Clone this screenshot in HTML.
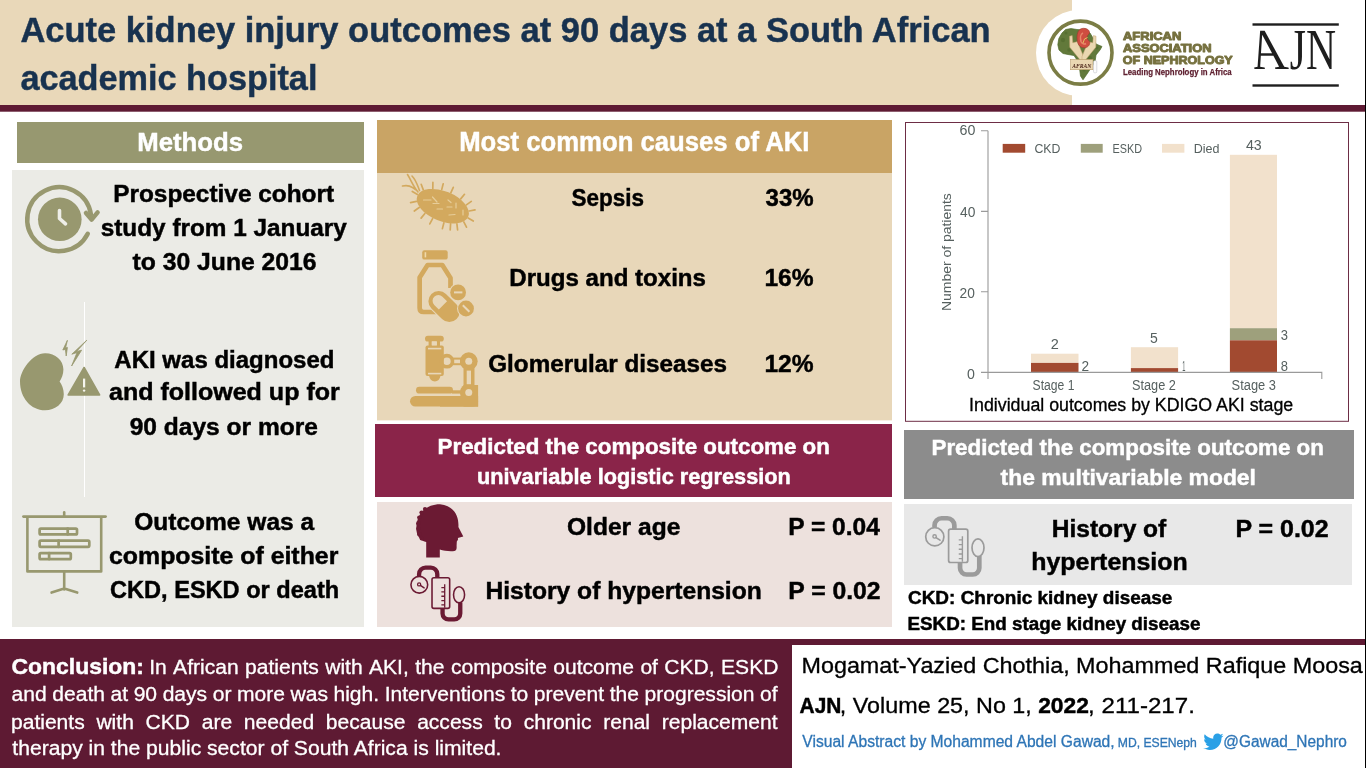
<!DOCTYPE html>
<html lang="en"><head><meta charset="utf-8"><title>Acute kidney injury outcomes at 90 days at a South African academic hospital</title>
<style>
html,body{margin:0;padding:0;background:#fff;}
body{width:1366px;height:768px;overflow:hidden;}
svg{display:block;will-change:transform;}
.sans{font-family:"Liberation Sans", Arial, sans-serif;}
.serif{font-family:"Liberation Serif", "Times New Roman", serif;}
</style></head>
<body>
<svg width="1366" height="768" viewBox="0 0 1366 768">

<rect x="0" y="0" width="1366" height="768" fill="#fff"/>
<rect x="0" y="0" width="1072" height="105" fill="#e9d8b9"/>
<circle cx="1079" cy="53" r="43" fill="#fff"/>
<rect x="0" y="105" width="1365" height="6.7" fill="#5e1a33"/>
<!-- methods -->
<rect x="17" y="122" width="347" height="41" fill="#979870"/>
<rect x="12" y="170" width="352" height="457" fill="#ebebe6"/>
<rect x="84" y="302" width="1" height="195" fill="#fff"/>
<!-- causes -->
<rect x="377" y="120" width="515" height="53" fill="#c9a465"/>
<rect x="377" y="173" width="515" height="247.4" fill="#e8d7b9"/>
<!-- univariable -->
<rect x="375" y="424" width="517" height="73" fill="#8a2449"/>
<rect x="377" y="502" width="515" height="125" fill="#ede1dd"/>
<!-- chart -->
<rect x="905.5" y="122.5" width="443" height="298.8" fill="#fff" stroke="#6d2d45" stroke-width="1"/>
<!-- multivariable -->
<rect x="904" y="430" width="450" height="69" fill="#8c8c8c"/>
<rect x="904" y="504" width="448" height="81" fill="#e8e8e8"/>
<!-- conclusion -->
<rect x="0" y="639" width="1366" height="129" fill="#5e1a33"/>
<rect x="792" y="645" width="574" height="123" fill="#fff"/>
<rect x="1365" y="0" width="1" height="768" fill="#000"/>

<!-- clock icon -->
<g fill="none" stroke="#98986f" stroke-width="4.5" stroke-linecap="round" stroke-linejoin="round">
 <path d="M87.76 233.78 A32 32 0 1 1 90.9 214.3"/>
 <path d="M86 213 L91.6 219.6 L97.6 212.4"/>
</g>
<circle cx="59.8" cy="219.3" r="21.8" fill="#98986f"/>
<path d="M59.5 210.5 V218.5 L65.5 223.8" fill="none" stroke="#eeeee8" stroke-width="3.6" stroke-linecap="round" stroke-linejoin="round"/>

<!-- kidney + warning -->
<path d="M45 353.2 C55 353 63.4 360 63.4 369.6 C63.4 374.5 61.6 378.4 59.6 381.5 C61.8 384.6 63.8 389 63.8 394.3 C63.8 403.5 55.5 410.3 45 410.3 C31 410.3 20 398 20 381.5 C20 371 32 353.4 45 353.2 Z" fill="#98986f"/>
<path d="M84.1 367.5 L68.2 395 L99.6 395 Z" fill="#98986f" stroke="#98986f" stroke-width="1.6" stroke-linejoin="round"/>
<path d="M84.1 378.6 V387.4" stroke="#f6f6ee" stroke-width="2.2"/>
<circle cx="84.1" cy="390.6" r="1.2" fill="#f6f6ee"/>
<polygon points="67.4,340.3 62.8,350 65.4,349.4 66.2,356 67.4,347.4 65.6,347.9" fill="#98986f" stroke="#98986f" stroke-width="0.8" stroke-linejoin="round"/>
<polygon points="86.8,340.2 71.8,354.2 77,352.6 71.6,366 81.6,350.2 76.6,351.4" fill="#98986f" stroke="#98986f" stroke-width="0.8" stroke-linejoin="round"/>

<!-- presentation board -->
<g fill="none" stroke="#98986f" stroke-width="2.6" stroke-linecap="round" stroke-linejoin="round">
 <path d="M23.4 516.6 H105.6"/>
 <path d="M64.2 512.4 V516"/>
 <path d="M27.4 516.6 V571.4 H101.2 V516.6" stroke-linecap="butt"/>
 <path d="M64.2 571.4 V589.5 M51.6 592.6 L64.2 588.6 L77.2 592.6"/>
 <g stroke-width="2.7">
  <rect x="39.6" y="528.6" width="37.4" height="5.8" rx="1.2"/><path d="M67.7 528.6 V534.4"/>
  <rect x="39.6" y="540.7" width="49.7" height="6.1" rx="1.2"/><path d="M58.6 540.7 V546.8"/>
  <rect x="39.6" y="553.1" width="31.2" height="6" rx="1.2"/><path d="M49.1 553.1 V559.1"/>
 </g>
</g>

<!-- bacteria -->
<g>
 <path d="M432.6 218.6 L429.8 223.9 M424.9 213.5 L421.1 218.1 M419.2 207.5 L414.3 211.0 M416.4 201.4 L410.6 202.6 M417.5 194.5 L412.3 191.4 M423.3 189.9 L421.2 184.3 M432.8 188.4 L432.9 182.4 M441.7 189.6 L443.2 183.8 M450.8 192.8 L453.3 187.3 M460.7 198.9 L464.5 194.3 M466.4 204.9 L471.3 201.4 M469.2 211.0 L475.0 209.8 M468.1 217.9 L473.3 221.0 M463.8 221.9 L466.5 227.2 M456.9 223.8 L457.6 229.8 M450.6 223.9 L450.2 229.9 M443.9 222.8 L442.4 228.6" stroke="#d3a95e" stroke-width="1.7" stroke-linecap="round"/>
 <path d="M418 192 C413 186 411 180 407.5 174.5 M419.5 190.5 C417 184 416 180 412 176 M416 190 C411 186 408 185 402.5 186" stroke="#d3a95e" stroke-width="1.6" fill="none" stroke-linecap="round"/>
 <ellipse cx="442.8" cy="206.2" rx="27.5" ry="15" transform="rotate(22 442.8 206.2)" fill="#d3a95e"/>
 <path d="M423.5 200 H431 M432.5 197 L437 202 M433 203.5 H439 M448 200 L451 202.5 M447 207 H452 M437 209 H442.5 M456 203 V208 M463 210 V215 M449 215 L455 214.5" stroke="#ecd6a8" stroke-width="1.2" stroke-linecap="round" opacity="0.8"/>
</g>

<!-- drugs -->
<g>
 <rect x="422.2" y="250.2" width="25.5" height="9.4" rx="2.2" fill="#d3a95e"/>
 <rect x="424.6" y="252.2" width="1.6" height="5.2" fill="#f0d9aa"/>
 <path d="M450.5 288 V278 L442.3 265 H427.6 L419.65 277.5 V308 Q419.65 312 423.65 312 H436" fill="none" stroke="#d3a95e" stroke-width="4.7" stroke-linejoin="round"/>
 <g transform="translate(444,306.5) rotate(45)">
  <rect x="-17.8" y="-10.3" width="35.6" height="20.6" rx="10.3" fill="#d3a95e" stroke="#e8d7b9" stroke-width="2.2" paint-order="stroke"/>
  <path d="M-1.5 -5.8 H-8 A5.8 5.8 0 0 0 -8 5.8 H-1.5 Z" fill="#e8d7b9"/>
 </g>
 <circle cx="458.1" cy="292.4" r="7.9" fill="#d3a95e" stroke="#e8d7b9" stroke-width="2.2" paint-order="stroke"/>
 <path d="M454 292.4 H462.4" stroke="#e8d7b9" stroke-width="2"/>
 <circle cx="466" cy="308.5" r="7.9" fill="#d3a95e" stroke="#e8d7b9" stroke-width="2.2" paint-order="stroke"/>
 <path d="M462.8 305.3 L469.4 311.8" stroke="#e8d7b9" stroke-width="2"/>
</g>

<!-- microscope -->
<g fill="#d3a95e">
 <rect x="425" y="335.7" width="18.8" height="5.9" rx="2.9"/>
 <rect x="428.6" y="341" width="3.2" height="5.2"/>
 <rect x="436.8" y="341" width="3.2" height="5.2"/>
 <rect x="425.5" y="345.6" width="18.3" height="30.4" rx="2"/>
 <path d="M429 375.5 H440.6 A6 8 0 0 1 429 375.5 Z"/>
 <circle cx="446.9" cy="361.2" r="5.6" fill="none" stroke="#d3a95e" stroke-width="3.6"/>
 <rect x="451" y="357.6" width="11" height="7.6"/>
 <circle cx="468.75" cy="361.25" r="8.9"/>
 <rect x="463.5" y="366" width="11" height="22"/>
 <circle cx="468.75" cy="392.5" r="8.9"/>
 <rect x="463.5" y="385" width="14.6" height="21.6"/>
 <rect x="416" y="386.8" width="37" height="6.7" rx="3.35"/>
 <rect x="452" y="390.3" width="10" height="3.3"/>
 <rect x="410" y="396" width="68" height="10.6" rx="5.3"/>
 <rect x="440" y="396" width="38.1" height="10.6"/>
 <g fill="#e8d7b9">
  <rect x="428" y="347.8" width="13.3" height="1.6"/>
  <rect x="428" y="372.8" width="13.3" height="1.6"/>
  <rect x="431.8" y="341.4" width="5" height="3.8"/>
  <rect x="454.2" y="359.6" width="5.8" height="3.6"/>
  <circle cx="468.75" cy="361.25" r="3.5"/>
  <rect x="466.7" y="370.6" width="4.3" height="13.6"/>
  <circle cx="468.75" cy="392.5" r="3.5"/>
 </g>
</g>

<!-- head -->
<path d="M440 504.2 C428 504.2 420 511 417.5 520 C415.5 527 416 533 419 537.5 C421 540.5 424 541.5 426.2 542 L426.2 557.6 L439.8 557.6 L439.8 549.5 C444 551 450 551.5 454.5 551 C456.5 550.5 456.8 548.5 456.6 546 L456.8 541.5 C457.5 540.5 458.5 539.5 457.8 538 L463.3 536.4 L458.4 527 C459 517 455 506 440 504.2 Z" fill="#6b1a33"/>
<g fill="#6b1a33"><circle cx="425" cy="509" r="2.1"/><circle cx="421.6" cy="512.6" r="2.2"/><circle cx="419.2" cy="517.6" r="2.1"/><circle cx="418.3" cy="523.2" r="2.2"/><circle cx="418.3" cy="528.8" r="2.1"/><circle cx="419.2" cy="534" r="2.2"/><circle cx="421.6" cy="538.4" r="2.0"/></g>

<g transform="translate(401.1,555.5) scale(0.92)" fill="none" stroke="#6b1a33" stroke-linecap="butt">
 <path d="M19.55 22.5 V20.25 A7 7 0 0 1 26.55 13.25 H32.35 A7 7 0 0 1 39.35 20.25 V24" stroke-width="4.7"/>
 <path d="M45.05 57.5 V63 A6.5 6.5 0 0 0 51.55 69.5 H57.8 A6.5 6.5 0 0 0 64.3 63 V51" stroke-width="4.7"/>
 <circle cx="19.8" cy="31.8" r="9.1" stroke-width="1.7" fill="#ede1dd"/>
 <circle cx="19.6" cy="31.4" r="1.7" stroke-width="1.4"/>
 <path d="M21 32.6 L25 35.2" stroke-width="1.6" stroke-linecap="round"/>
 <rect x="33.6" y="24.2" width="19.2" height="33.3" rx="2" stroke-width="1.7" fill="#ede1dd"/>
 <path d="M47.4 31.3 V56.8 M43.75 34.9 H47.4 M43.75 39.6 H47.4 M43.75 44.3 H47.4 M43.75 49 H47.4 M43.75 53.6 H47.4" stroke-width="1.4"/>
 <ellipse cx="63" cy="42.7" rx="6" ry="8.8" stroke-width="1.7" fill="#ede1dd"/>
</g>
<g transform="translate(915,505) scale(1.0)" fill="none" stroke="#9b9b9b" stroke-linecap="butt">
 <path d="M19.55 22.5 V20.25 A7 7 0 0 1 26.55 13.25 H32.35 A7 7 0 0 1 39.35 20.25 V24" stroke-width="4.7"/>
 <path d="M45.05 57.5 V63 A6.5 6.5 0 0 0 51.55 69.5 H57.8 A6.5 6.5 0 0 0 64.3 63 V51" stroke-width="4.7"/>
 <circle cx="19.8" cy="31.8" r="9.1" stroke-width="1.7" fill="#e8e8e8"/>
 <circle cx="19.6" cy="31.4" r="1.7" stroke-width="1.4"/>
 <path d="M21 32.6 L25 35.2" stroke-width="1.6" stroke-linecap="round"/>
 <rect x="33.6" y="24.2" width="19.2" height="33.3" rx="2" stroke-width="1.7" fill="#e8e8e8"/>
 <path d="M47.4 31.3 V56.8 M43.75 34.9 H47.4 M43.75 39.6 H47.4 M43.75 44.3 H47.4 M43.75 49 H47.4 M43.75 53.6 H47.4" stroke-width="1.4"/>
 <ellipse cx="63" cy="42.7" rx="6" ry="8.8" stroke-width="1.7" fill="#e8e8e8"/>
</g>

<!-- chart -->
<g>
 <rect x="1031" y="353.7" width="47.5" height="9.2" fill="#f2e1cc"/>
 <rect x="1031" y="362.9" width="47.5" height="9.4" fill="#a24a30"/>
 <rect x="1130.9" y="347.2" width="47.2" height="20.9" fill="#f2e1cc"/>
 <rect x="1130.9" y="368.1" width="47.2" height="4.3" fill="#a24a30"/>
 <rect x="1229.9" y="154.8" width="47.1" height="173.4" fill="#f2e1cc"/>
 <rect x="1229.9" y="328.2" width="47.1" height="12.1" fill="#9ea07c"/>
 <rect x="1229.9" y="340.3" width="47.1" height="32.1" fill="#a24a30"/>
 <rect x="1002.7" y="143.9" width="22.5" height="8.8" fill="#a24a30"/>
 <rect x="1080.8" y="143.9" width="21.9" height="8.8" fill="#9ea07c"/>
 <rect x="1162" y="143.9" width="22.4" height="8.8" fill="#f2e1cc"/>
 <path d="M988 130.8 V379 M981 130.8 H988 M981 211.4 H988 M981 291.7 H988 M981 372.4 H1321.8 V379" fill="none" stroke="#9a9a9a" stroke-width="1.1"/>
</g>

<!-- AFRAN emblem -->
<g>
 <circle cx="1080.5" cy="52.65" r="31.5" fill="#fff" stroke="#7b7d45" stroke-width="3.6"/>
 <polygon points="1065.6,29.5 1071,28.6 1077,29.5 1084,30 1090,33 1093,38 1096,44 1102,46.5 1100,50 1096,55 1095,62 1091,68 1087,74 1083,79.8 1080.5,76 1079.5,68 1077,60 1074,55.5 1068,54.5 1063,53.5 1059,50 1057.8,44.7 1058.8,38.5 1062,33" fill="#62793a" stroke="#4f6a2c" stroke-width="0.7"/>
 <g fill="#526b2e" opacity="0.7"><circle cx="1063" cy="40" r="2.2"/><circle cx="1069" cy="50" r="1.8"/><circle cx="1090" cy="58" r="2"/><circle cx="1084" cy="70" r="1.6"/><circle cx="1097" cy="48" r="1.4"/><circle cx="1066" cy="33" r="1.5"/></g>
 <polygon points="1069.6,36.2 1072.2,35.6 1072.8,42.8 1077.8,41.6 1078.6,44.6 1083.6,56.6 1083.6,60.0 1080.2,60.0 1069.8,47.2" fill="#ead7b0" stroke="#c4a271" stroke-width="0.5" stroke-linejoin="round"/>
 <polygon points="1096.0,36.2 1093.4,35.6 1092.8,42.8 1087.8,41.6 1087.0,44.6 1082.0,56.6 1082.0,60.0 1085.4,60.0 1095.8,47.2" fill="#ead7b0" stroke="#c4a271" stroke-width="0.5" stroke-linejoin="round"/>
 <path d="M1083.6 28.3 C1078.5 28.3 1077 33 1077 37.8 C1077 43.5 1079.5 47.8 1084 47.8 C1088 47.8 1089.8 45 1089.8 42.5 C1089.8 40.5 1087 40 1087 37.5 C1087 35 1089.5 34.5 1089.5 32.5 C1089.5 30 1087 28.3 1083.6 28.3 Z" fill="#cf4d40" stroke="#9a3a2c" stroke-width="0.6"/>
 <path d="M1083 33 C1080.5 34 1080 38 1081 41.5 C1082 44 1084.5 44.5 1086 43.5" fill="none" stroke="#e8866a" stroke-width="1.6"/>
 <path d="M1087.5 37.5 L1084.5 39 L1083 43" fill="none" stroke="#e3c060" stroke-width="1"/>
 <rect x="1070.7" y="59.5" width="22.3" height="10.2" fill="#ead7b2" stroke="#b99b6a" stroke-width="0.6"/>
 <rect x="1093.5" y="60.7" width="3.3" height="12.1" rx="1.2" fill="#fbfbfb" stroke="#b8b8c0" stroke-width="0.5"/>
</g>

<!-- AJN -->
<rect x="1252.5" y="23.3" width="86.3" height="2.4" fill="#1e1e1e"/>
<rect x="1252.5" y="84.3" width="86.3" height="2.4" fill="#1e1e1e"/>

<!-- twitter bird -->
<path transform="translate(1202.5,731.1) scale(0.89)" fill="#2aa0e6" d="M23.643 4.937c-.835.37-1.732.62-2.675.733.962-.576 1.7-1.49 2.048-2.578-.9.534-1.897.922-2.958 1.13-.85-.904-2.06-1.47-3.4-1.47-2.572 0-4.658 2.086-4.658 4.66 0 .364.042.718.12 1.06-3.873-.195-7.304-2.05-9.602-4.868-.4.69-.63 1.49-.63 2.342 0 1.616.823 3.043 2.072 3.878-.764-.025-1.482-.234-2.11-.583v.06c0 2.257 1.605 4.14 3.737 4.568-.392.106-.803.162-1.227.162-.3 0-.593-.028-.877-.082.593 1.85 2.313 3.198 4.352 3.234-1.595 1.25-3.604 1.995-5.786 1.995-.376 0-.747-.022-1.112-.065 2.062 1.323 4.51 2.093 7.14 2.093 8.57 0 13.255-7.098 13.255-13.254 0-.2-.005-.402-.014-.602.91-.658 1.7-1.477 2.323-2.41z"/>

<text x="20.46" y="41.70" font-size="35.56" class="sans" font-weight="bold" fill="#18324f" stroke="#18324f" stroke-width="0.45" textLength="970.20" lengthAdjust="spacingAndGlyphs">Acute kidney injury outcomes at 90 days at a South African</text>
<text x="20.46" y="89.90" font-size="35.56" class="sans" font-weight="bold" fill="#18324f" stroke="#18324f" stroke-width="0.45" textLength="296.96" lengthAdjust="spacingAndGlyphs">academic hospital</text>
<text x="137.19" y="150.80" font-size="26.31" class="sans" font-weight="bold" fill="#fff" stroke="#fff" stroke-width="0.45" textLength="105.85" lengthAdjust="spacingAndGlyphs">Methods</text>
<text x="113.18" y="201.70" font-size="23.75" class="sans" font-weight="bold" fill="#000" stroke="#000" stroke-width="0.45" textLength="220.94" lengthAdjust="spacingAndGlyphs">Prospective cohort</text>
<text x="100.74" y="236.30" font-size="23.75" class="sans" font-weight="bold" fill="#000" stroke="#000" stroke-width="0.45" textLength="246.11" lengthAdjust="spacingAndGlyphs">study from 1 January</text>
<text x="132.50" y="270.00" font-size="23.75" class="sans" font-weight="bold" fill="#000" stroke="#000" stroke-width="0.45" textLength="184.12" lengthAdjust="spacingAndGlyphs">to 30 June 2016</text>
<text x="114.32" y="367.70" font-size="23.75" class="sans" font-weight="bold" fill="#000" stroke="#000" stroke-width="0.45" textLength="220.21" lengthAdjust="spacingAndGlyphs">AKI was diagnosed</text>
<text x="109.01" y="400.30" font-size="23.75" class="sans" font-weight="bold" fill="#000" stroke="#000" stroke-width="0.45" textLength="230.75" lengthAdjust="spacingAndGlyphs">and followed up for</text>
<text x="129.73" y="434.50" font-size="23.75" class="sans" font-weight="bold" fill="#000" stroke="#000" stroke-width="0.45" textLength="188.18" lengthAdjust="spacingAndGlyphs">90 days or more</text>
<text x="134.23" y="529.60" font-size="23.75" class="sans" font-weight="bold" fill="#000" stroke="#000" stroke-width="0.45" textLength="179.91" lengthAdjust="spacingAndGlyphs">Outcome was a</text>
<text x="109.02" y="563.60" font-size="23.75" class="sans" font-weight="bold" fill="#000" stroke="#000" stroke-width="0.45" textLength="229.33" lengthAdjust="spacingAndGlyphs">composite of either</text>
<text x="110.06" y="597.80" font-size="23.75" class="sans" font-weight="bold" fill="#000" stroke="#000" stroke-width="0.45" textLength="229.08" lengthAdjust="spacingAndGlyphs">CKD, ESKD or death</text>
<text x="459.20" y="150.70" font-size="27.02" class="sans" font-weight="bold" fill="#fff" stroke="#fff" stroke-width="0.45" textLength="350.32" lengthAdjust="spacingAndGlyphs">Most common causes of AKI</text>
<text x="571.45" y="205.80" font-size="23.75" class="sans" font-weight="bold" fill="#000" stroke="#000" stroke-width="0.45" textLength="72.46" lengthAdjust="spacingAndGlyphs">Sepsis</text>
<text x="765.52" y="205.80" font-size="23.75" class="sans" font-weight="bold" fill="#000" stroke="#000" stroke-width="0.45" textLength="48.12" lengthAdjust="spacingAndGlyphs">33%</text>
<text x="509.29" y="285.80" font-size="23.75" class="sans" font-weight="bold" fill="#000" stroke="#000" stroke-width="0.45" textLength="196.68" lengthAdjust="spacingAndGlyphs">Drugs and toxins</text>
<text x="764.46" y="285.80" font-size="23.75" class="sans" font-weight="bold" fill="#000" stroke="#000" stroke-width="0.45" textLength="49.18" lengthAdjust="spacingAndGlyphs">16%</text>
<text x="488.24" y="372.40" font-size="23.75" class="sans" font-weight="bold" fill="#000" stroke="#000" stroke-width="0.45" textLength="238.74" lengthAdjust="spacingAndGlyphs">Glomerular diseases</text>
<text x="764.46" y="372.40" font-size="23.75" class="sans" font-weight="bold" fill="#000" stroke="#000" stroke-width="0.45" textLength="49.18" lengthAdjust="spacingAndGlyphs">12%</text>
<text x="437.60" y="453.50" font-size="21.33" class="sans" font-weight="bold" fill="#fff" stroke="#fff" stroke-width="0.45" textLength="392.28" lengthAdjust="spacingAndGlyphs">Predicted the composite outcome on</text>
<text x="476.98" y="483.60" font-size="21.33" class="sans" font-weight="bold" fill="#fff" stroke="#fff" stroke-width="0.45" textLength="313.87" lengthAdjust="spacingAndGlyphs">univariable logistic regression</text>
<text x="567.03" y="534.80" font-size="23.75" class="sans" font-weight="bold" fill="#000" stroke="#000" stroke-width="0.45" textLength="113.28" lengthAdjust="spacingAndGlyphs">Older age</text>
<text x="788.28" y="534.80" font-size="23.75" class="sans" font-weight="bold" fill="#000" stroke="#000" stroke-width="0.45" textLength="91.57" lengthAdjust="spacingAndGlyphs">P = 0.04</text>
<text x="485.46" y="598.80" font-size="23.75" class="sans" font-weight="bold" fill="#000" stroke="#000" stroke-width="0.45" textLength="276.33" lengthAdjust="spacingAndGlyphs">History of hypertension</text>
<text x="788.26" y="598.80" font-size="23.75" class="sans" font-weight="bold" fill="#000" stroke="#000" stroke-width="0.45" textLength="92.35" lengthAdjust="spacingAndGlyphs">P = 0.02</text>
<text x="931.50" y="454.60" font-size="21.33" class="sans" font-weight="bold" fill="#fff" stroke="#fff" stroke-width="0.45" textLength="392.38" lengthAdjust="spacingAndGlyphs">Predicted the composite outcome on</text>
<text x="1000.60" y="484.70" font-size="21.33" class="sans" font-weight="bold" fill="#fff" stroke="#fff" stroke-width="0.45" textLength="255.35" lengthAdjust="spacingAndGlyphs">the multivariable model</text>
<text x="1051.77" y="537.00" font-size="23.75" class="sans" font-weight="bold" fill="#000" stroke="#000" stroke-width="0.45" textLength="114.47" lengthAdjust="spacingAndGlyphs">History of</text>
<text x="1031.24" y="570.30" font-size="23.75" class="sans" font-weight="bold" fill="#000" stroke="#000" stroke-width="0.45" textLength="156.46" lengthAdjust="spacingAndGlyphs">hypertension</text>
<text x="1235.45" y="537.00" font-size="23.75" class="sans" font-weight="bold" fill="#000" stroke="#000" stroke-width="0.45" textLength="93.17" lengthAdjust="spacingAndGlyphs">P = 0.02</text>
<text x="908.01" y="603.80" font-size="17.78" class="sans" font-weight="bold" fill="#000" stroke="#000" stroke-width="0.45" textLength="264.36" lengthAdjust="spacingAndGlyphs">CKD: Chronic kidney disease</text>
<text x="907.42" y="630.40" font-size="17.78" class="sans" font-weight="bold" fill="#000" stroke="#000" stroke-width="0.45" textLength="293.05" lengthAdjust="spacingAndGlyphs">ESKD: End stage kidney disease</text>
<text x="969.12" y="411.10" font-size="17.78" class="sans" fill="#000" stroke="#000" stroke-width="0.3" textLength="324.10" lengthAdjust="spacingAndGlyphs">Individual outcomes by KDIGO AKI stage</text>
<text x="11.58" y="673.70" font-size="22.04" class="sans" font-weight="bold" fill="#fff" stroke="#fff" stroke-width="0.45" textLength="132.32" lengthAdjust="spacingAndGlyphs">Conclusion:</text>
<text x="801.48" y="672.50" font-size="21.33" class="sans" fill="#000" stroke="#000" stroke-width="0.3" textLength="561.38" lengthAdjust="spacingAndGlyphs">Mogamat-Yazied Chothia, Mohammed Rafique Moosa</text>
<text x="799.57" y="712.80" font-size="21.90" class="sans" font-weight="bold" fill="#000" stroke="#000" stroke-width="0.45" textLength="41.80" lengthAdjust="spacingAndGlyphs">AJN</text>
<text x="839.88" y="712.80" font-size="21.90" class="sans" fill="#000" stroke="#000" stroke-width="0.3" textLength="191.97" lengthAdjust="spacingAndGlyphs">, Volume 25, No 1,</text>
<text x="1038.19" y="712.80" font-size="21.90" class="sans" font-weight="bold" fill="#000" stroke="#000" stroke-width="0.45" textLength="50.68" lengthAdjust="spacingAndGlyphs">2022</text>
<text x="1088.12" y="712.80" font-size="21.90" class="sans" fill="#000" stroke="#000" stroke-width="0.3" textLength="106.76" lengthAdjust="spacingAndGlyphs">, 211-217.</text>
<text x="802.30" y="746.90" font-size="15.64" class="sans" fill="#2e75b6" stroke="#2e75b6" stroke-width="0.3" textLength="312.36" lengthAdjust="spacingAndGlyphs">Visual Abstract by Mohammed Abdel Gawad,</text>
<text x="1117.75" y="746.90" font-size="12.52" class="sans" fill="#2e75b6" stroke="#2e75b6" stroke-width="0.3" textLength="79.13" lengthAdjust="spacingAndGlyphs">MD, ESENeph</text>
<text x="1223.30" y="746.90" font-size="15.64" class="sans" fill="#2e75b6" stroke="#2e75b6" stroke-width="0.3" textLength="123.63" lengthAdjust="spacingAndGlyphs">@Gawad_Nephro</text>
<text x="959.53" y="135.40" font-size="14.79" class="sans" fill="#56605f" textLength="15.82" lengthAdjust="spacingAndGlyphs">60</text>
<text x="959.98" y="217.00" font-size="14.79" class="sans" fill="#56605f" textLength="15.36" lengthAdjust="spacingAndGlyphs">40</text>
<text x="959.56" y="297.60" font-size="14.79" class="sans" fill="#56605f" textLength="15.29" lengthAdjust="spacingAndGlyphs">20</text>
<text x="966.96" y="378.90" font-size="14.79" class="sans" fill="#56605f" textLength="7.90" lengthAdjust="spacingAndGlyphs">0</text>
<text x="1034.42" y="152.70" font-size="13.65" class="sans" fill="#56605f" textLength="26.00" lengthAdjust="spacingAndGlyphs">CKD</text>
<text x="1112.45" y="152.70" font-size="13.65" class="sans" fill="#56605f" textLength="29.52" lengthAdjust="spacingAndGlyphs">ESKD</text>
<text x="1193.72" y="152.70" font-size="13.65" class="sans" fill="#56605f" textLength="25.73" lengthAdjust="spacingAndGlyphs">Died</text>
<text x="1245.98" y="149.80" font-size="15.08" class="sans" fill="#56605f" textLength="15.80" lengthAdjust="spacingAndGlyphs">43</text>
<text x="1050.82" y="348.80" font-size="14.65" class="sans" fill="#56605f" textLength="8.07" lengthAdjust="spacingAndGlyphs">2</text>
<text x="1081.56" y="370.60" font-size="14.65" class="sans" fill="#56605f" textLength="7.59" lengthAdjust="spacingAndGlyphs">2</text>
<text x="1149.96" y="342.80" font-size="14.65" class="sans" fill="#56605f" textLength="7.81" lengthAdjust="spacingAndGlyphs">5</text>
<text x="1182.24" y="370.80" font-size="14.65" class="sans" fill="#56605f" textLength="3.19" lengthAdjust="spacingAndGlyphs">1</text>
<text x="1280.79" y="339.60" font-size="14.51" class="sans" fill="#56605f" textLength="7.23" lengthAdjust="spacingAndGlyphs">3</text>
<text x="1280.79" y="370.80" font-size="14.65" class="sans" fill="#56605f" textLength="7.23" lengthAdjust="spacingAndGlyphs">8</text>
<text x="1032.62" y="390.00" font-size="15.36" class="sans" fill="#56605f" textLength="41.87" lengthAdjust="spacingAndGlyphs">Stage 1</text>
<text x="1132.00" y="390.00" font-size="15.36" class="sans" fill="#56605f" textLength="43.91" lengthAdjust="spacingAndGlyphs">Stage 2</text>
<text x="1231.60" y="390.00" font-size="15.36" class="sans" fill="#56605f" textLength="44.32" lengthAdjust="spacingAndGlyphs">Stage 3</text>
<text x="149.16" y="673.7" font-size="19.91" class="sans" fill="#fff" stroke="#fff" stroke-width="0.3" textLength="17.56" lengthAdjust="spacingAndGlyphs">In</text>
<text x="173.12" y="673.7" font-size="19.91" class="sans" fill="#fff" stroke="#fff" stroke-width="0.3" textLength="65.53" lengthAdjust="spacingAndGlyphs">African</text>
<text x="245.05" y="673.7" font-size="19.91" class="sans" fill="#fff" stroke="#fff" stroke-width="0.3" textLength="73.75" lengthAdjust="spacingAndGlyphs">patients</text>
<text x="325.20" y="673.7" font-size="19.91" class="sans" fill="#fff" stroke="#fff" stroke-width="0.3" textLength="37.44" lengthAdjust="spacingAndGlyphs">with</text>
<text x="369.04" y="673.7" font-size="19.91" class="sans" fill="#fff" stroke="#fff" stroke-width="0.3" textLength="39.79" lengthAdjust="spacingAndGlyphs">AKI,</text>
<text x="415.23" y="673.7" font-size="19.91" class="sans" fill="#fff" stroke="#fff" stroke-width="0.3" textLength="29.27" lengthAdjust="spacingAndGlyphs">the</text>
<text x="450.90" y="673.7" font-size="19.91" class="sans" fill="#fff" stroke="#fff" stroke-width="0.3" textLength="95.97" lengthAdjust="spacingAndGlyphs">composite</text>
<text x="553.27" y="673.7" font-size="19.91" class="sans" fill="#fff" stroke="#fff" stroke-width="0.3" textLength="80.76" lengthAdjust="spacingAndGlyphs">outcome</text>
<text x="640.42" y="673.7" font-size="19.91" class="sans" fill="#fff" stroke="#fff" stroke-width="0.3" textLength="17.56" lengthAdjust="spacingAndGlyphs">of</text>
<text x="664.39" y="673.7" font-size="19.91" class="sans" fill="#fff" stroke="#fff" stroke-width="0.3" textLength="50.31" lengthAdjust="spacingAndGlyphs">CKD,</text>
<text x="721.09" y="673.7" font-size="19.91" class="sans" fill="#fff" stroke="#fff" stroke-width="0.3" textLength="57.34" lengthAdjust="spacingAndGlyphs">ESKD</text>
<text x="11.64" y="700.6" font-size="19.91" class="sans" fill="#fff" stroke="#fff" stroke-width="0.3" textLength="35.13" lengthAdjust="spacingAndGlyphs">and</text>
<text x="52.32" y="700.6" font-size="19.91" class="sans" fill="#fff" stroke="#fff" stroke-width="0.3" textLength="52.69" lengthAdjust="spacingAndGlyphs">death</text>
<text x="110.57" y="700.6" font-size="19.91" class="sans" fill="#fff" stroke="#fff" stroke-width="0.3" textLength="17.56" lengthAdjust="spacingAndGlyphs">at</text>
<text x="133.68" y="700.6" font-size="19.91" class="sans" fill="#fff" stroke="#fff" stroke-width="0.3" textLength="23.42" lengthAdjust="spacingAndGlyphs">90</text>
<text x="162.65" y="700.6" font-size="19.91" class="sans" fill="#fff" stroke="#fff" stroke-width="0.3" textLength="44.48" lengthAdjust="spacingAndGlyphs">days</text>
<text x="212.68" y="700.6" font-size="19.91" class="sans" fill="#fff" stroke="#fff" stroke-width="0.3" textLength="18.72" lengthAdjust="spacingAndGlyphs">or</text>
<text x="236.95" y="700.6" font-size="19.91" class="sans" fill="#fff" stroke="#fff" stroke-width="0.3" textLength="47.97" lengthAdjust="spacingAndGlyphs">more</text>
<text x="290.47" y="700.6" font-size="19.91" class="sans" fill="#fff" stroke="#fff" stroke-width="0.3" textLength="37.44" lengthAdjust="spacingAndGlyphs">was</text>
<text x="333.47" y="700.6" font-size="19.91" class="sans" fill="#fff" stroke="#fff" stroke-width="0.3" textLength="45.66" lengthAdjust="spacingAndGlyphs">high.</text>
<text x="384.68" y="700.6" font-size="19.91" class="sans" fill="#fff" stroke="#fff" stroke-width="0.3" textLength="120.56" lengthAdjust="spacingAndGlyphs">Interventions</text>
<text x="510.78" y="700.6" font-size="19.91" class="sans" fill="#fff" stroke="#fff" stroke-width="0.3" textLength="17.56" lengthAdjust="spacingAndGlyphs">to</text>
<text x="533.89" y="700.6" font-size="19.91" class="sans" fill="#fff" stroke="#fff" stroke-width="0.3" textLength="70.23" lengthAdjust="spacingAndGlyphs">prevent</text>
<text x="609.68" y="700.6" font-size="19.91" class="sans" fill="#fff" stroke="#fff" stroke-width="0.3" textLength="29.27" lengthAdjust="spacingAndGlyphs">the</text>
<text x="644.50" y="700.6" font-size="19.91" class="sans" fill="#fff" stroke="#fff" stroke-width="0.3" textLength="110.02" lengthAdjust="spacingAndGlyphs">progression</text>
<text x="760.07" y="700.6" font-size="19.91" class="sans" fill="#fff" stroke="#fff" stroke-width="0.3" textLength="17.56" lengthAdjust="spacingAndGlyphs">of</text>
<text x="10.98" y="728.5" font-size="19.91" class="sans" fill="#fff" stroke="#fff" stroke-width="0.3" textLength="73.75" lengthAdjust="spacingAndGlyphs">patients</text>
<text x="96.43" y="728.5" font-size="19.91" class="sans" fill="#fff" stroke="#fff" stroke-width="0.3" textLength="37.44" lengthAdjust="spacingAndGlyphs">with</text>
<text x="145.58" y="728.5" font-size="19.91" class="sans" fill="#fff" stroke="#fff" stroke-width="0.3" textLength="44.46" lengthAdjust="spacingAndGlyphs">CKD</text>
<text x="201.74" y="728.5" font-size="19.91" class="sans" fill="#fff" stroke="#fff" stroke-width="0.3" textLength="30.43" lengthAdjust="spacingAndGlyphs">are</text>
<text x="243.88" y="728.5" font-size="19.91" class="sans" fill="#fff" stroke="#fff" stroke-width="0.3" textLength="70.26" lengthAdjust="spacingAndGlyphs">needed</text>
<text x="325.84" y="728.5" font-size="19.91" class="sans" fill="#fff" stroke="#fff" stroke-width="0.3" textLength="79.61" lengthAdjust="spacingAndGlyphs">because</text>
<text x="417.15" y="728.5" font-size="19.91" class="sans" fill="#fff" stroke="#fff" stroke-width="0.3" textLength="65.53" lengthAdjust="spacingAndGlyphs">access</text>
<text x="494.39" y="728.5" font-size="19.91" class="sans" fill="#fff" stroke="#fff" stroke-width="0.3" textLength="17.56" lengthAdjust="spacingAndGlyphs">to</text>
<text x="523.65" y="728.5" font-size="19.91" class="sans" fill="#fff" stroke="#fff" stroke-width="0.3" textLength="67.88" lengthAdjust="spacingAndGlyphs">chronic</text>
<text x="603.23" y="728.5" font-size="19.91" class="sans" fill="#fff" stroke="#fff" stroke-width="0.3" textLength="46.82" lengthAdjust="spacingAndGlyphs">renal</text>
<text x="661.76" y="728.5" font-size="19.91" class="sans" fill="#fff" stroke="#fff" stroke-width="0.3" textLength="115.87" lengthAdjust="spacingAndGlyphs">replacement</text>
<text x="12.30" y="754.8" font-size="19.91" class="sans" fill="#fff" stroke="#fff" stroke-width="0.3" textLength="489.20" lengthAdjust="spacingAndGlyphs">therapy in the public sector of South Africa is limited.</text>
<text stroke="#76713f" stroke-width="0.9" stroke-linejoin="round" x="1123.00" y="40.10" font-size="10.52" class="sans" font-weight="bold" fill="#76713f" textLength="58.36" lengthAdjust="spacingAndGlyphs">AFRICAN</text>
<text stroke="#76713f" stroke-width="0.9" stroke-linejoin="round" x="1123.00" y="52.40" font-size="10.52" class="sans" font-weight="bold" fill="#76713f" textLength="88.45" lengthAdjust="spacingAndGlyphs">ASSOCIATION</text>
<text stroke="#76713f" stroke-width="0.9" stroke-linejoin="round" x="1122.81" y="64.30" font-size="10.52" class="sans" font-weight="bold" fill="#76713f" textLength="109.93" lengthAdjust="spacingAndGlyphs">OF NEPHROLOGY</text>
<text stroke="#5e2030" stroke-width="0.25" x="1123.01" y="74.60" font-size="9.39" class="sans" font-weight="bold" fill="#5e2030" textLength="108.64" lengthAdjust="spacingAndGlyphs">Leading Nephrology in Africa</text>
<text transform="translate(1270,68.6) skewX(13) translate(-1270,-68.6)" x="1254.00" y="68.60" font-size="57.90" class="serif" fill="#1e1e1e" textLength="35.17" lengthAdjust="spacingAndGlyphs">A</text>
<text x="1289.85" y="68.60" font-size="57.90" class="serif" fill="#1e1e1e" textLength="46.24" lengthAdjust="spacingAndGlyphs">JN</text>
<text font-style="italic" x="1072.30" y="67.70" font-size="6.55" class="serif" font-weight="bold" fill="#4a2418" textLength="19.12" lengthAdjust="spacingAndGlyphs">AFRAN</text>
<text transform="translate(951.2,310.99) rotate(-90)" x="0" y="0" font-size="12.52" class="sans" fill="#56605f" textLength="117.72" lengthAdjust="spacingAndGlyphs">Number of patients</text>
</svg>
</body></html>
